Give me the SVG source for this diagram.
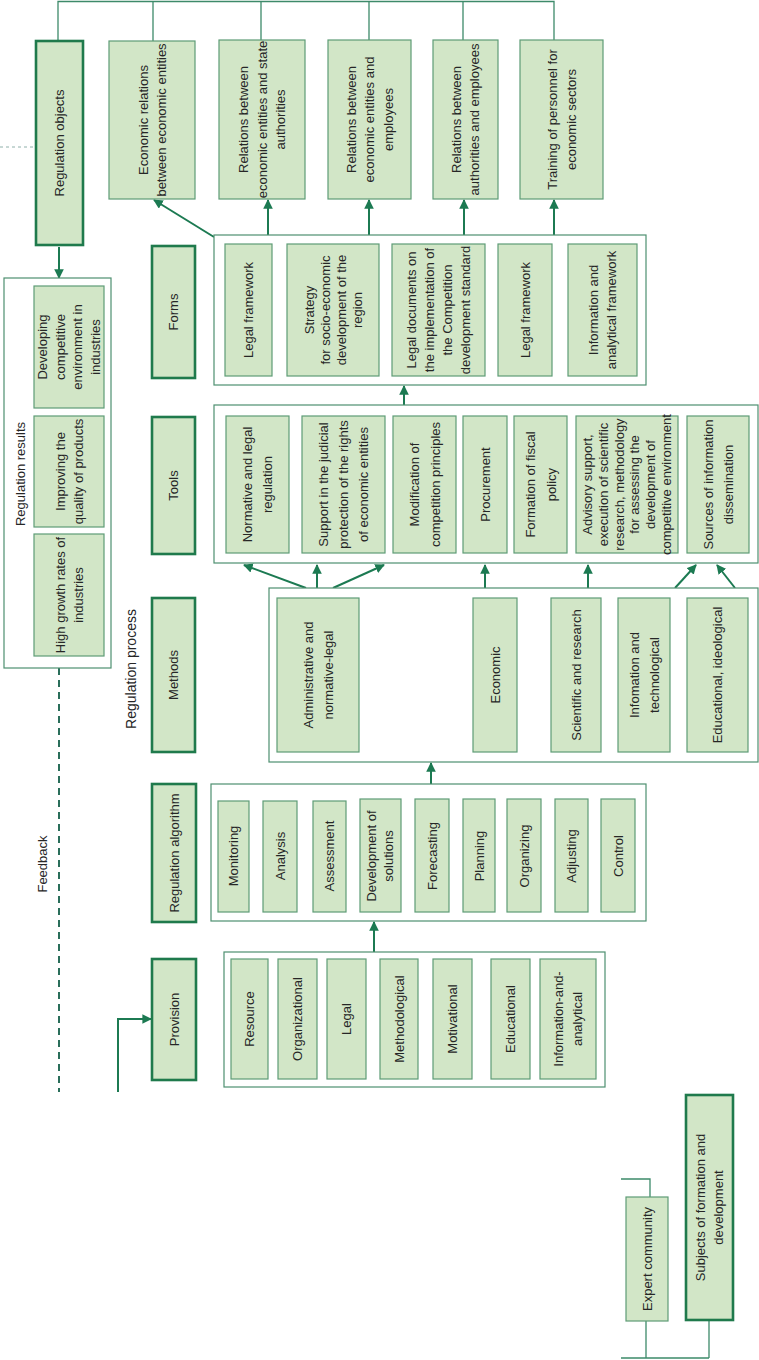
<svg xmlns="http://www.w3.org/2000/svg" width="759" height="1360" viewBox="0 0 759 1360">
<defs>
<marker id="ah" viewBox="0 0 10 10" refX="9" refY="5" markerWidth="4.8" markerHeight="4.8" orient="auto"><path d="M0,0 L10,5 L0,10 z" fill="#1c7a52"/></marker>
<style>
.bx{fill:#d2e6c7;stroke:#5e9c76;stroke-width:1.2}
.lb{fill:#d2e6c7;stroke:#1f7a4c;stroke-width:2.6}
.ct{fill:#fff;stroke:#4e8f70;stroke-width:1.2}
text{font-family:"Liberation Sans",Arial,sans-serif;font-size:13px;fill:#262626;text-anchor:middle}
.big{font-size:14px}
.ln{fill:none;stroke:#3d8a6a;stroke-width:1.3}
.ar{fill:none;stroke:#1c7a52;stroke-width:2;marker-end:url(#ah)}
.fb{fill:none;stroke:#2a6e5a;stroke-width:2;stroke-dasharray:7,5}
.td{fill:none;stroke:#8fb0aa;stroke-width:1;stroke-dasharray:3,3}
</style>
</defs>

<g id="connectors">
<path class="ln" d="M58,41 V1.5 H554 V40"/>
<path class="ln" d="M153,1.5 V41 M261,1.5 V40 M369,1.5 V40 M463,1.5 V40"/>
<path class="td" d="M0,147 H36"/>
<path class="ar" d="M214,237 L154,200"/>
<path class="ar" d="M268,235 V200"/>
<path class="ar" d="M369,235 V200"/>
<path class="ar" d="M464,235 V200"/>
<path class="ar" d="M554,235 V200"/>
<path class="ln" d="M272,315 H287"/>
<path class="ar" d="M404,405 V386"/>
<path class="ar" d="M306,588 L244,565"/>
<path class="ar" d="M317,588 V565"/>
<path class="ar" d="M333,588 L384,565"/>
<path class="ar" d="M485,588 V565"/>
<path class="ar" d="M588,588 V565"/>
<path class="ar" d="M675,588 L696,565"/>
<path class="ar" d="M735,588 L717,565"/>
<path class="ar" d="M431,800 V763"/>
<path class="ar" d="M249,856 H263"/>
<path class="ar" d="M297,856 H313"/>
<path class="ar" d="M346,856 H360"/>
<path class="ar" d="M401,856 H415"/>
<path class="ar" d="M449,856 H463"/>
<path class="ar" d="M495,856 H507"/>
<path class="ar" d="M541,856 H555"/>
<path class="ar" d="M588,856 H601"/>
<path class="ar" d="M374,952 V922"/>
<path class="ln" d="M472,1018 H491"/>
<path class="ar" d="M118,1092 V1019 H151"/>
<path class="ar" d="M59,247 V278"/>
<path class="fb" d="M59,668 V1092"/>
<path class="ln" d="M621,1179 H650 V1197"/>
<path class="ln" d="M646,1321 V1358 M709,1320 V1358 M621,1358 H709"/>
</g>

<g id="regulation-objects">
<rect class="lb" x="36" y="41" width="47" height="204"/>
<text transform="translate(59.5 143) rotate(-90)"><tspan x="0" dy="4.5">Regulation objects</tspan></text>
</g>
<g id="obj-economic-relations">
<rect class="bx" x="109" y="41" width="86" height="158"/>
<text transform="translate(152 120) rotate(-90)"><tspan x="0" dy="-4.5">Economic relations</tspan><tspan x="0" dy="18">between economic entities</tspan></text>
</g>
<g id="obj-state">
<rect class="bx" x="219" y="40" width="86" height="159"/>
<text transform="translate(262 119.5) rotate(-90)"><tspan x="0" dy="-14">Relations between</tspan><tspan x="0" dy="18.5">economic entities and state</tspan><tspan x="0" dy="18.5">authorities</tspan></text>
</g>
<g id="obj-employees">
<rect class="bx" x="328" y="40" width="83" height="159"/>
<text transform="translate(369.5 119.5) rotate(-90)"><tspan x="0" dy="-14">Relations between</tspan><tspan x="0" dy="18.5">economic entities and</tspan><tspan x="0" dy="18.5">employees</tspan></text>
</g>
<g id="obj-authorities">
<rect class="bx" x="433" y="40" width="65" height="159"/>
<text transform="translate(465.5 119.5) rotate(-90)"><tspan x="0" dy="-4.5">Relations between</tspan><tspan x="0" dy="18">authorities and employees</tspan></text>
</g>
<g id="obj-training">
<rect class="bx" x="520" y="40" width="83" height="159"/>
<text transform="translate(561.5 119.5) rotate(-90)"><tspan x="0" dy="-5">Training of personnel for</tspan><tspan x="0" dy="19">economic sectors</tspan></text>
</g>

<g id="regulation-results">
<rect class="ct" x="4" y="278" width="107" height="390"/>
<text transform="translate(20 474) rotate(-90)"><tspan x="0" dy="4.5">Regulation results</tspan></text>
</g>
<g id="res-developing">
<rect class="bx" x="34" y="286" width="70" height="122"/>
<text transform="translate(69 347) rotate(-90)"><tspan x="0" dy="-21.75">Developing</tspan><tspan x="0" dy="17.5">competitive</tspan><tspan x="0" dy="17.5">environment in</tspan><tspan x="0" dy="17.5">industries</tspan></text>
</g>
<g id="res-improving">
<rect class="bx" x="34" y="416" width="70" height="111"/>
<text transform="translate(69 471.5) rotate(-90)"><tspan x="0" dy="-4.5">Improving the</tspan><tspan x="0" dy="18">quality of products</tspan></text>
</g>
<g id="res-growth">
<rect class="bx" x="34" y="534" width="70" height="122"/>
<text transform="translate(69 595) rotate(-90)"><tspan x="0" dy="-4.5">High growth rates of</tspan><tspan x="0" dy="18">industries</tspan></text>
</g>

<g id="label-process"><text class="big" transform="translate(131 669) rotate(-90)"><tspan x="0" dy="5">Regulation process</tspan></text></g>
<g id="label-feedback"><text transform="translate(42 864) rotate(-90)"><tspan x="0" dy="4.5">Feedback</tspan></text></g>

<g id="forms">
<rect class="lb" x="152" y="246" width="43" height="132"/>
<text transform="translate(173.5 312) rotate(-90)"><tspan x="0" dy="4.5">Forms</tspan></text>
</g>
<g id="forms-container"><rect class="ct" x="214" y="235" width="432" height="150"/></g>
<g id="form-legal-1">
<rect class="bx" x="225" y="244" width="47" height="132"/>
<text transform="translate(248.5 310) rotate(-90)"><tspan x="0" dy="4.5">Legal framework</tspan></text>
</g>
<g id="form-strategy">
<rect class="bx" x="287" y="244" width="92" height="132"/>
<text transform="translate(333 310) rotate(-90)"><tspan x="0" dy="-19.5">Strategy</tspan><tspan x="0" dy="16">for socio-economic</tspan><tspan x="0" dy="16">development of the</tspan><tspan x="0" dy="16">region</tspan></text>
</g>
<g id="form-documents">
<rect class="bx" x="392" y="244" width="93" height="132"/>
<text transform="translate(438.5 310) rotate(-90)"><tspan x="0" dy="-22.5">Legal documents on</tspan><tspan x="0" dy="18">the implementation of</tspan><tspan x="0" dy="18">the Competition</tspan><tspan x="0" dy="18">development standard</tspan></text>
</g>
<g id="form-legal-2">
<rect class="bx" x="498" y="244" width="54" height="132"/>
<text transform="translate(525 310) rotate(-90)"><tspan x="0" dy="4.5">Legal framework</tspan></text>
</g>
<g id="form-info">
<rect class="bx" x="568" y="244" width="69" height="132"/>
<text transform="translate(602.5 310) rotate(-90)"><tspan x="0" dy="-4.5">Information and</tspan><tspan x="0" dy="18">analytical framework</tspan></text>
</g>

<g id="tools">
<rect class="lb" x="152" y="417" width="43" height="137"/>
<text transform="translate(173.5 485.5) rotate(-90)"><tspan x="0" dy="4.5">Tools</tspan></text>
</g>
<g id="tools-container"><rect class="ct" x="214" y="405" width="544" height="158"/></g>
<g id="tool-normative">
<rect class="bx" x="226" y="416" width="63" height="137"/>
<text transform="translate(257.5 484.5) rotate(-90)"><tspan x="0" dy="-5.5">Normative and legal</tspan><tspan x="0" dy="20">regulation</tspan></text>
</g>
<g id="tool-support">
<rect class="bx" x="302" y="416" width="83" height="137"/>
<text transform="translate(343.5 484.5) rotate(-90)"><tspan x="0" dy="-15.5">Support in the judicial</tspan><tspan x="0" dy="20">protection of the rights</tspan><tspan x="0" dy="20">of economic entities</tspan></text>
</g>
<g id="tool-modification">
<rect class="bx" x="393" y="416" width="63" height="137"/>
<text transform="translate(424.5 484.5) rotate(-90)"><tspan x="0" dy="-6">Modification of</tspan><tspan x="0" dy="21">competition principles</tspan></text>
</g>
<g id="tool-procurement">
<rect class="bx" x="463" y="416" width="44" height="137"/>
<text transform="translate(485 484.5) rotate(-90)"><tspan x="0" dy="4.5">Procurement</tspan></text>
</g>
<g id="tool-fiscal">
<rect class="bx" x="514" y="416" width="53" height="137"/>
<text transform="translate(540.5 484.5) rotate(-90)"><tspan x="0" dy="-6">Formation of fiscal</tspan><tspan x="0" dy="21">policy</tspan></text>
</g>
<g id="tool-advisory">
<rect class="bx" x="576" y="416" width="102" height="137"/>
<text transform="translate(627 484.5) rotate(-90)"><tspan x="0" dy="-34.75">Advisory support,</tspan><tspan x="0" dy="15.7">execution of scientific</tspan><tspan x="0" dy="15.7">research, methodology</tspan><tspan x="0" dy="15.7">for assessing the</tspan><tspan x="0" dy="15.7">development of</tspan><tspan x="0" dy="15.7">competitive environment</tspan></text>
</g>
<g id="tool-sources">
<rect class="bx" x="687" y="416" width="62" height="137"/>
<text transform="translate(718 484.5) rotate(-90)"><tspan x="0" dy="-5.5">Sources of information</tspan><tspan x="0" dy="20">dissemination</tspan></text>
</g>

<g id="methods">
<rect class="lb" x="152" y="598" width="43" height="154"/>
<text transform="translate(173.5 675) rotate(-90)"><tspan x="0" dy="4.5">Methods</tspan></text>
</g>
<g id="methods-container"><rect class="ct" x="269" y="588" width="489" height="174"/></g>
<g id="method-admin">
<rect class="bx" x="277" y="598" width="82" height="154"/>
<text transform="translate(318 675) rotate(-90)"><tspan x="0" dy="-5.5">Administrative and</tspan><tspan x="0" dy="20">normative-legal</tspan></text>
</g>
<g id="method-economic">
<rect class="bx" x="473" y="598" width="44" height="154"/>
<text transform="translate(495 675) rotate(-90)"><tspan x="0" dy="4.5">Economic</tspan></text>
</g>
<g id="method-scientific">
<rect class="bx" x="551" y="598" width="50" height="154"/>
<text transform="translate(576 675) rotate(-90)"><tspan x="0" dy="4.5">Scientific and research</tspan></text>
</g>
<g id="method-info">
<rect class="bx" x="618" y="598" width="52" height="154"/>
<text transform="translate(644 675) rotate(-90)"><tspan x="0" dy="-5.5">Infomation and</tspan><tspan x="0" dy="20">technological</tspan></text>
</g>
<g id="method-educational">
<rect class="bx" x="687" y="598" width="61" height="154"/>
<text transform="translate(717.5 675) rotate(-90)"><tspan x="0" dy="4.5">Educational, ideological</tspan></text>
</g>

<g id="algorithm">
<rect class="lb" x="152" y="784" width="44" height="138"/>
<text transform="translate(174 853) rotate(-90)"><tspan x="0" dy="4.5">Regulation algorithm</tspan></text>
</g>
<g id="algorithm-container"><rect class="ct" x="211" y="784" width="435" height="137"/></g>
<g id="alg-monitoring"><rect class="bx" x="218" y="801" width="31" height="111"/><text transform="translate(233.5 856) rotate(-90)"><tspan x="0" dy="4.5">Monitoring</tspan></text></g>
<g id="alg-analysis"><rect class="bx" x="263" y="801" width="34" height="111"/><text transform="translate(280 856) rotate(-90)"><tspan x="0" dy="4.5">Analysis</tspan></text></g>
<g id="alg-assessment"><rect class="bx" x="313" y="801" width="33" height="111"/><text transform="translate(329.5 856) rotate(-90)"><tspan x="0" dy="4.5">Assessment</tspan></text></g>
<g id="alg-development"><rect class="bx" x="360" y="799" width="41" height="113"/><text transform="translate(380.5 856) rotate(-90)"><tspan x="0" dy="-4.5">Development of</tspan><tspan x="0" dy="17">solutions</tspan></text></g>
<g id="alg-forecasting"><rect class="bx" x="415" y="799" width="34" height="113"/><text transform="translate(432 856) rotate(-90)"><tspan x="0" dy="4.5">Forecasting</tspan></text></g>
<g id="alg-planning"><rect class="bx" x="463" y="799" width="32" height="113"/><text transform="translate(479 856) rotate(-90)"><tspan x="0" dy="4.5">Planning</tspan></text></g>
<g id="alg-organizing"><rect class="bx" x="507" y="799" width="34" height="113"/><text transform="translate(524 856) rotate(-90)"><tspan x="0" dy="4.5">Organizing</tspan></text></g>
<g id="alg-adjusting"><rect class="bx" x="555" y="799" width="33" height="113"/><text transform="translate(571.5 856) rotate(-90)"><tspan x="0" dy="4.5">Adjusting</tspan></text></g>
<g id="alg-control"><rect class="bx" x="601" y="799" width="34" height="113"/><text transform="translate(618 856) rotate(-90)"><tspan x="0" dy="4.5">Control</tspan></text></g>

<g id="provision">
<rect class="lb" x="152" y="959" width="44" height="121"/>
<text transform="translate(174 1019.5) rotate(-90)"><tspan x="0" dy="4.5">Provision</tspan></text>
</g>
<g id="provision-container"><rect class="ct" x="224" y="952" width="381" height="135"/></g>
<g id="prov-resource"><rect class="bx" x="231" y="959" width="37" height="120"/><text transform="translate(249.5 1019) rotate(-90)"><tspan x="0" dy="4.5">Resource</tspan></text></g>
<g id="prov-organizational"><rect class="bx" x="278" y="959" width="39" height="120"/><text transform="translate(297.5 1019) rotate(-90)"><tspan x="0" dy="4.5">Organizational</tspan></text></g>
<g id="prov-legal"><rect class="bx" x="327" y="959" width="39" height="120"/><text transform="translate(346.5 1019) rotate(-90)"><tspan x="0" dy="4.5">Legal</tspan></text></g>
<g id="prov-methodological"><rect class="bx" x="380" y="959" width="38" height="120"/><text transform="translate(399 1019) rotate(-90)"><tspan x="0" dy="4.5">Methodological</tspan></text></g>
<g id="prov-motivational"><rect class="bx" x="433" y="959" width="39" height="120"/><text transform="translate(452.5 1019) rotate(-90)"><tspan x="0" dy="4.5">Motivational</tspan></text></g>
<g id="prov-educational"><rect class="bx" x="491" y="959" width="39" height="120"/><text transform="translate(510.5 1019) rotate(-90)"><tspan x="0" dy="4.5">Educational</tspan></text></g>
<g id="prov-info"><rect class="bx" x="540" y="959" width="56" height="120"/><text transform="translate(568 1019) rotate(-90)"><tspan x="0" dy="-5">Information-and-</tspan><tspan x="0" dy="19">analytical</tspan></text></g>

<g id="expert-community">
<rect class="bx" x="626" y="1197" width="42" height="124"/>
<text transform="translate(647 1259) rotate(-90)"><tspan x="0" dy="4.5">Expert community</tspan></text>
</g>
<g id="subjects">
<rect class="lb" x="686" y="1095" width="47" height="225"/>
<text transform="translate(709.5 1207.5) rotate(-90)"><tspan x="0" dy="-4.5">Subjects of formation and</tspan><tspan x="0" dy="18">development</tspan></text>
</g>
</svg>
